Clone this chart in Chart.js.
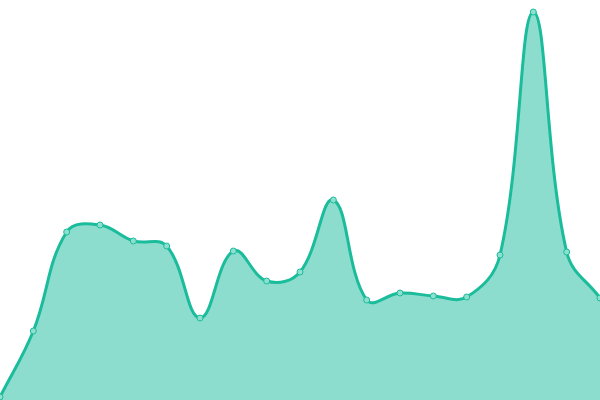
<!DOCTYPE html>
<html>
<head>
<meta charset="utf-8">
<script src="https://cdn.jsdelivr.net/npm/chart.js@4/dist/chart.umd.min.js"></script>
<style>
    html, body { margin: 0; padding: 0; background: #fff; }
    #wrap { width: 600px; height: 400px; }
</style>
</head>
<body>
<div id="wrap"><canvas id="chart"></canvas></div>
<script>
// Values (no axes shown, y range 0..400).
const labels = ['1', '2', '3', '4', '5', '6', '7', '8', '9', '10',
    '11', '12', '13', '14', '15', '16', '17', '18', '19'];
const values = [3, 69, 168, 175, 159, 154, 82, 149, 119, 128,
    200, 100, 107, 104, 103, 145, 388, 148, 102];
const yMin = 0;
const yMax = 400;

const LINE_COLOR = '#1abc9c';
const FILL_COLOR = 'rgba(26, 188, 156, 0.5)';
const POINT_FILL = '#8ddfce';

new Chart(document.getElementById('chart'), {
    type: 'line',
    data: {
        labels,
        datasets: [{
            data: values,
            fill: 'origin',
            borderColor: LINE_COLOR,
            backgroundColor: FILL_COLOR,
            borderWidth: 3,
            tension: 0.4,
            pointRadius: 3,
            pointBorderWidth: 1,
            pointBorderColor: LINE_COLOR,
            pointBackgroundColor: POINT_FILL
        }]
    },
    options: {
        responsive: true,
        maintainAspectRatio: false,
        animation: false,
        layout: { padding: 0, autoPadding: false },
        plugins: { legend: { display: false }, tooltip: { enabled: false } },
        scales: {
            x: { display: false, offset: false },
            y: { display: false, min: yMin, max: yMax }
        }
    }
});
</script>
</body>
</html>
